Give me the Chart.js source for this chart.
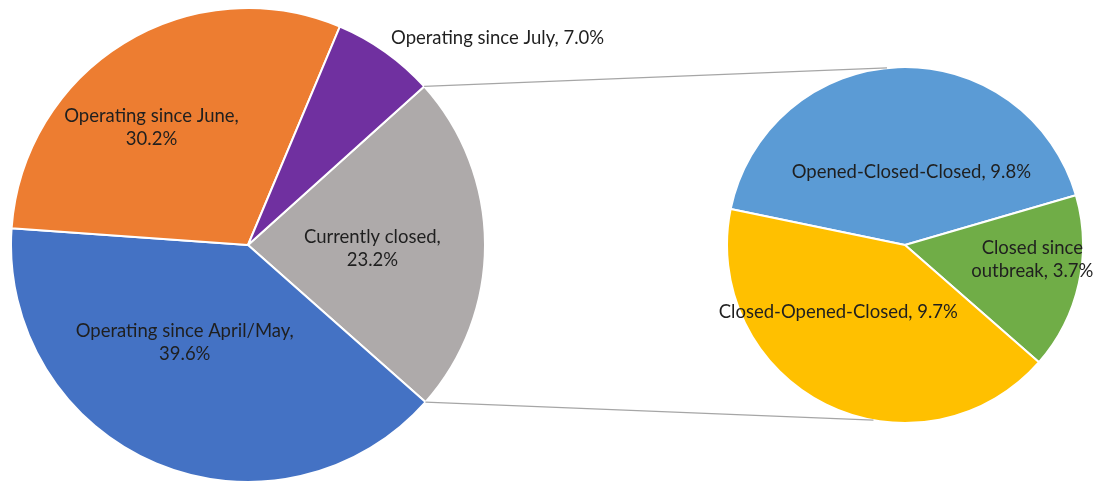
<!DOCTYPE html>
<html><head><meta charset="utf-8">
<script src="https://cdn.jsdelivr.net/npm/chart.js@4"></script>
<style>
html,body{margin:0;padding:0;background:#fff;width:1103px;height:483px;overflow:hidden;}
#main{position:absolute;left:10px;top:7px;width:476px;height:476px;}
#sub{position:absolute;left:726px;top:66px;width:358px;height:358px;}
#ov{position:absolute;left:0;top:0;pointer-events:none;}
</style></head><body>
<div id="main"><canvas id="c1"></canvas></div>
<div id="sub"><canvas id="c2"></canvas></div>
<canvas id="ov" width="1103" height="483"></canvas>
<script>
// ---- data ----
const mainLabels = ['Currently closed', 'Operating since April/May', 'Operating since June', 'Operating since July'];
const mainValues = [23.2, 39.6, 30.2, 7.0];
const mainColors = ['#AEAAAA', '#4472C4', '#ED7D31', '#7030A0'];
const subLabels = ['Opened-Closed-Closed', 'Closed since outbreak', 'Closed-Opened-Closed'];
const subValues = [9.8, 3.7, 9.7];
const subColors = ['#5B9BD5', '#70AD47', '#FFC000'];

// label layout: polar angle (deg, screen), radius fraction, text alignment, line break rule
const mainPlace = [
  {a: 1.5, f: 0.525, align: 'center', brk: -1},
  {a: 123, f: 0.49, align: 'center', brk: -1},
  {a: 230.5, f: 0.64, align: 'center', brk: -1},
  {a: -55.3, f: 1.06, align: 'left', brk: 0}
];
const subPlace = [
  {a: -85, f: 0.41, align: 'center', brk: 0},
  {a: 6.7, f: 0.72, align: 'center', brk: 2},
  {a: 135, f: 0.53, align: 'center', brk: 0}
];

const FONT = '18.5px Lato, "Open Sans", sans-serif';
const TEXT = '#1f1f1f';

function baseOpts(rotation) {
  return {
    responsive: true, maintainAspectRatio: false, animation: false,
    rotation: rotation,
    layout: {padding: 0},
    plugins: {legend: {display: false}, tooltip: {enabled: false}},
    events: []
  };
}

const c1 = new Chart(document.getElementById('c1'), {
  type: 'pie',
  data: {labels: mainLabels, datasets: [{data: mainValues, backgroundColor: mainColors, borderColor: '#ffffff', borderWidth: 2, hoverOffset: 0}]},
  options: baseOpts(48)
});
const c2 = new Chart(document.getElementById('c2'), {
  type: 'pie',
  data: {labels: subLabels, datasets: [{data: subValues, backgroundColor: subColors, borderColor: '#ffffff', borderWidth: 2, hoverOffset: 0}]},
  options: baseOpts(281.7)
});

function textLines(label, v, brk) {
  const full = label + ', ' + v.toFixed(1) + '%';
  if (brk === 0) return [full];
  if (brk === -1) return [label + ',', v.toFixed(1) + '%'];
  const words = full.split(' ');
  return [words.slice(0, brk).join(' '), words.slice(brk).join(' ')];
}

function drawOverlay() {
  const ov = document.getElementById('ov');
  const ctx = ov.getContext('2d');
  ctx.clearRect(0, 0, ov.width, ov.height);
  const b1 = c1.canvas.getBoundingClientRect();
  const b2 = c2.canvas.getBoundingClientRect();
  const arcs1 = c1.getDatasetMeta(0).data;
  const arcs2 = c2.getDatasetMeta(0).data;
  const g = arcs1[0];
  const cx1 = b1.left + g.x, cy1 = b1.top + g.y, r1 = g.outerRadius;
  const h = arcs2[0];
  const cx2 = b2.left + h.x, cy2 = b2.top + h.y, r2 = h.outerRadius;

  // connector lines from the closed slice to the secondary pie
  ctx.strokeStyle = '#a6a6a6';
  ctx.lineWidth = 1.2;
  const ends = [[g.startAngle, 264.2], [g.endAngle, 100.2]];
  ends.forEach(([sa, deg]) => {
    const t = deg * Math.PI / 180;
    ctx.beginPath();
    ctx.moveTo(cx1 + r1 * Math.cos(sa), cy1 + r1 * Math.sin(sa));
    ctx.lineTo(cx2 + r2 * Math.cos(t), cy2 + r2 * Math.sin(t));
    ctx.stroke();
  });

  // labels
  ctx.font = FONT;
  ctx.fillStyle = TEXT;
  ctx.textBaseline = 'middle';
  const lh = 23;
  function put(cx, cy, r, place, label, v) {
    const t = place.a * Math.PI / 180;
    const x = cx + r * place.f * Math.cos(t);
    const y = cy + r * place.f * Math.sin(t);
    const lines = textLines(label, v, place.brk);
    ctx.textAlign = place.align;
    lines.forEach((ln, i) => {
      ctx.fillText(ln, x, y + (i - (lines.length - 1) / 2) * lh);
    });
  }
  mainLabels.forEach((l, i) => put(cx1, cy1, r1, mainPlace[i], l, mainValues[i]));
  subLabels.forEach((l, i) => put(cx2, cy2, r2, subPlace[i], l, subValues[i]));
}
drawOverlay();
</script>
</body></html>
